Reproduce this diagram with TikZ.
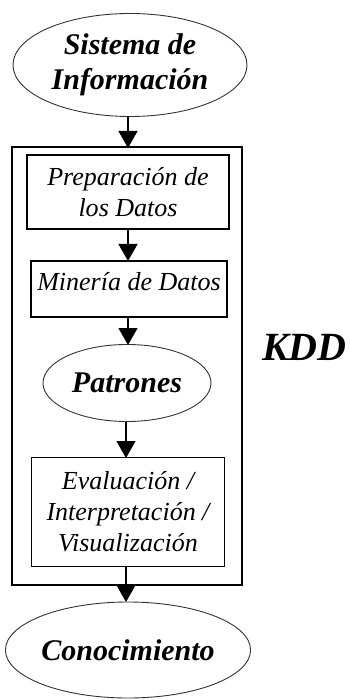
\documentclass[tikz,border=0pt]{standalone}
\usepackage{fontspec}
\setmainfont{Liberation Serif}
\usetikzlibrary{shapes.geometric,arrows.meta}
\begin{document}
\begin{tikzpicture}[x=1pt,y=-1pt,
  ell/.style={draw=black!80,line width=0.9pt,ellipse,inner sep=0pt,align=center},
  boxn/.style={draw=black,line width=1.2pt,rectangle,inner sep=0pt,align=center},
  bi/.style={font=\fontsize{30}{35}\selectfont\bfseries\itshape},
  it/.style={font=\fontsize{26}{31}\selectfont\itshape},
  arr/.style={line width=1.3pt,-{Triangle[width=19pt,length=17pt]}}]
\useasboundingbox (0,0) rectangle (350,700);
\node[ell,bi,minimum width=234,minimum height=103] (sis) at (130,65) {Sistema de\\Información};
\node[boxn,minimum width=230,minimum height=438] (kdd) at (127,366) {};
\node[boxn,it,minimum width=202,minimum height=74] (prep) at (128,192) {Preparación de\\los Datos};
\node[boxn,minimum width=196,minimum height=56,label={[it,yshift=7pt]center:Minería de Datos}] (mine) at (129,289) {};
\node[ell,bi,minimum width=168,minimum height=77] (pat) at (127,383) {Patrones};
\node[boxn,it,minimum width=193,minimum height=109] (eval) at (128,512) {Evaluación /\\Interpretación /\\Visualización};
\node[ell,bi,minimum width=227,minimum height=96] (con) at (128,650) {Conocimiento};
\node[font=\fontsize{40}{44}\selectfont\bfseries\itshape,anchor=base west,inner sep=0pt] (lab) at (262,360) {KDD};
\draw[arr] (128,116.5) -- (128,148);
\draw[arr] (128,229) -- (128,261);
\draw[arr] (128,317) -- (128,345);
\draw[arr] (126,421.5) -- (126,458);
\draw[arr] (126,567) -- (126,602);
\end{tikzpicture}
\end{document}
